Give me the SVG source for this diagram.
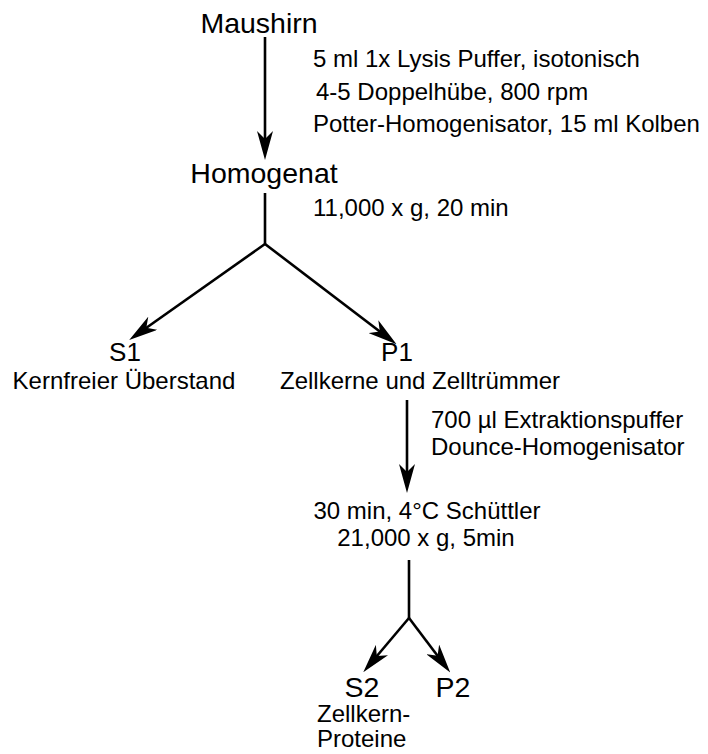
<svg xmlns="http://www.w3.org/2000/svg" width="708" height="754" viewBox="0 0 708 754">
  <style>
    text { font-family: "Liberation Sans", Arial, sans-serif; fill: #000; }
    .title { font-size: 28.5px; }
    .frac { font-size: 26px; }
    .note { font-size: 24px; }
    .mid { text-anchor: middle; }
    .edge { fill: none; stroke: #000; stroke-width: 2.6; }
  </style>
  <defs>
    <!-- barbed arrowhead; the line stops 12px short of the tip -->
    <marker id="head" viewBox="0 0 29 16" refX="17" refY="8" markerWidth="29" markerHeight="16" markerUnits="userSpaceOnUse" orient="auto">
      <path d="M29,8 L0,0 L8,8 L0,16 Z" fill="#000"/>
    </marker>
  </defs>
  <rect width="708" height="754" fill="#fff"/>

  <g id="connectors">
    <!-- Maushirn -> Homogenat -->
    <line class="edge" x1="265" y1="37" x2="265" y2="148" marker-end="url(#head)"/>
    <!-- Homogenat -> split -->
    <line class="edge" x1="265" y1="193" x2="265" y2="244"/>
    <polyline class="edge" points="265,244 139,333" marker-end="url(#head)"/>
    <polyline class="edge" points="265,244 387,337" marker-end="url(#head)"/>
    <!-- P1 -> extraction -->
    <line class="edge" x1="407" y1="400" x2="407" y2="481" marker-end="url(#head)"/>
    <!-- second centrifugation split -->
    <line class="edge" x1="409" y1="560" x2="409" y2="618"/>
    <polyline class="edge" points="409,618 371,663" marker-end="url(#head)"/>
    <polyline class="edge" points="409,618 443,663" marker-end="url(#head)"/>
  </g>

  <g id="maushirn">
    <text class="title mid" x="259" y="33">Maushirn</text>
  </g>
  <g id="step-lysis">
    <text class="note" x="313" y="67">5 ml 1x Lysis Puffer, isotonisch</text>
    <text class="note" x="316" y="100">4-5 Doppelhübe, 800 rpm</text>
    <text class="note" x="313" y="132">Potter-Homogenisator, 15 ml Kolben</text>
  </g>
  <g id="homogenat">
    <text class="title mid" x="264" y="183">Homogenat</text>
  </g>
  <g id="step-spin1">
    <text class="note" x="313" y="216">11,000 x g, 20 min</text>
  </g>
  <g id="s1">
    <text class="frac mid" x="125" y="361">S1</text>
    <text class="note mid" x="124" y="389">Kernfreier Überstand</text>
  </g>
  <g id="p1">
    <text class="frac mid" x="397" y="361">P1</text>
    <text class="note" x="280" y="389">Zellkerne und Zelltrümmer</text>
  </g>
  <g id="step-extraction">
    <text class="note" x="431" y="428">700 µl Extraktionspuffer</text>
    <text class="note" x="431" y="455">Dounce-Homogenisator</text>
  </g>
  <g id="step-spin2">
    <text class="note mid" x="427" y="519">30 min, 4°C Schüttler</text>
    <text class="note mid" x="426" y="546">21,000 x g, 5min</text>
  </g>
  <g id="s2">
    <text class="title mid" x="362" y="697">S2</text>
    <text class="note" x="317" y="722">Zellkern-</text>
    <text class="note" x="317" y="747">Proteine</text>
  </g>
  <g id="p2">
    <text class="title mid" x="453" y="697">P2</text>
  </g>
</svg>
